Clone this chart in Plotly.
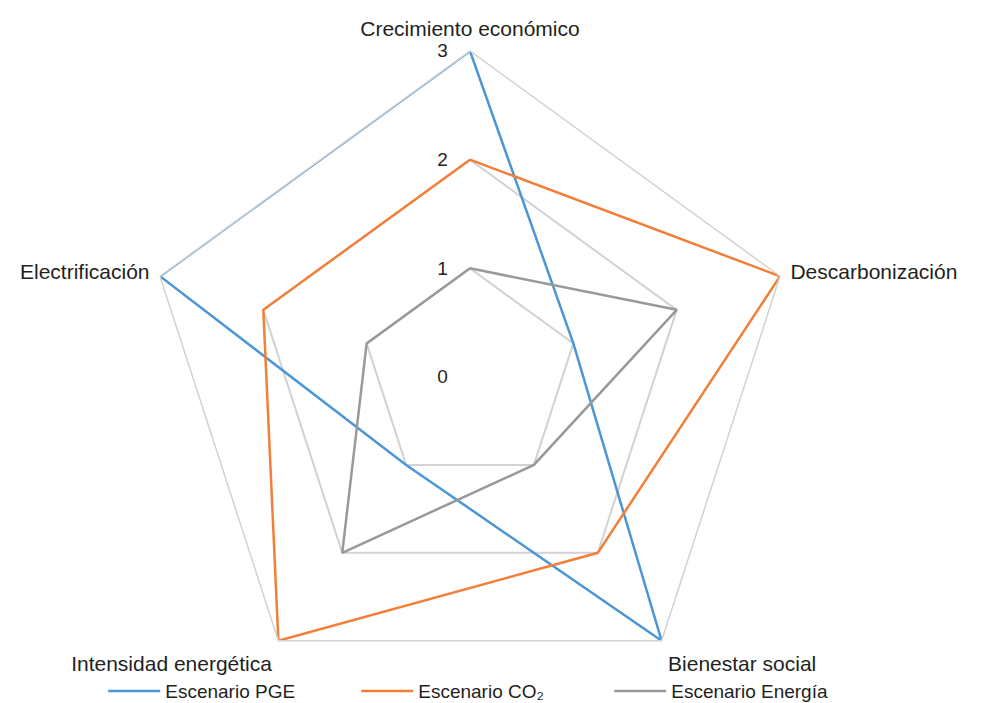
import plotly.graph_objects as go

# Dimensiones evaluadas (en el sentido de las agujas del reloj, desde arriba)
categorias = ["Crecimiento económico", "Descarbonización", "Bienestar social",
              "Intensidad energética", "Electrificación"]

# Puntuación de cada escenario por dimensión
escenario_pge = [3, 1, 3, 1, 3]
escenario_co2 = [2, 3, 2, 3, 2]
escenario_energia = [1, 2, 1, 2, 1]

nombres = ["Escenario PGE", "Escenario CO₂", "Escenario Energía"]
colores = ["#4A96D6", "#F27F38", "#999999"]
series = [escenario_pge, escenario_co2, escenario_energia]

TEXT = "#231F20"
GRID = "#D2D2D2"

fig = go.Figure()
for nombre, valores, color in zip(nombres, series, colores):
    fig.add_trace(go.Scatterpolar(
        r=valores + valores[:1],
        theta=categorias + categorias[:1],
        mode="lines",
        name=nombre,
        line=dict(color=color, width=2.5),
    ))

W, H = 983, 703
cx, rad = 470, 327
fig.update_layout(
    width=W, height=H,
    margin=dict(l=0, r=0, t=51, b=0, autoexpand=False),
    paper_bgcolor="white",
    plot_bgcolor="white",
    font=dict(family="Liberation Sans, Arial, sans-serif", size=19, color=TEXT),
    polar=dict(
        domain=dict(x=[(cx - rad) / W, (cx + rad) / W], y=[0, 1]),
        bgcolor="white",
        gridshape="linear",
        radialaxis=dict(
            range=[0, 3], tickvals=[0, 1, 2, 3], angle=90,
            side="counterclockwise", tickangle=90,
            showline=False, ticks="outside", ticklen=15,
            tickcolor="rgba(0,0,0,0)", showgrid=True,
            gridcolor=GRID, gridwidth=1.5,
            tickfont=dict(size=19, color=TEXT),
        ),
        angularaxis=dict(
            direction="clockwise", rotation=90,
            showgrid=False, showline=True, linecolor=GRID, linewidth=1.5,
            ticks="outside", ticklen=6, tickcolor="rgba(0,0,0,0)",
            tickfont=dict(size=21, color=TEXT),
        ),
    ),
    legend=dict(
        orientation="h",
        x=0.105, xanchor="left", xref="container",
        y=0.017, yanchor="middle", yref="container",
        bgcolor="rgba(0,0,0,0)",
        itemwidth=52,
        entrywidth=186, entrywidthmode="pixels",
        font=dict(size=19, color=TEXT),
    ),
)

fig.write_html("out.html")
